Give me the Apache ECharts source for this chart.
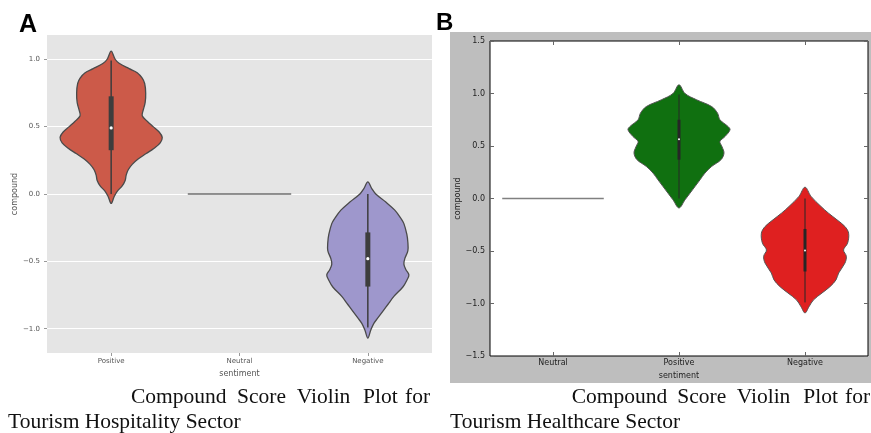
<!DOCTYPE html>
<html><head><meta charset="utf-8">
<script src="https://cdn.jsdelivr.net/npm/echarts@6/dist/echarts.min.js"></script>
<style>html,body{margin:0;padding:0;background:#fff}#c{width:871px;height:433px}</style>
</head><body><div id="c"></div>
<script>
// ---------- data ----------
const categoriesA = ['Positive', 'Neutral', 'Negative'];
const categoriesB = ['Neutral', 'Positive', 'Negative'];
const yTicksA = [-1.0, -0.5, 0.0, 0.5, 1.0];
const yTicksB = [-1.5, -1.0, -0.5, 0.0, 0.5, 1.0, 1.5];

// violin outlines: [compound value, half width as a fraction of the category band]
const violinA_Positive = [[1.06,0],[1.00,0.031],[0.97,0.062],[0.93,0.140],[0.90,0.203],[0.86,0.242],[0.82,0.261],[0.75,0.269],[0.68,0.265],[0.62,0.249],[0.58,0.242],[0.54,0.281],[0.50,0.327],[0.46,0.374],[0.42,0.398],[0.38,0.382],[0.34,0.335],[0.30,0.273],[0.26,0.210],[0.22,0.164],[0.18,0.133],[0.14,0.117],[0.10,0.109],[0.06,0.086],[0.02,0.047],[-0.02,0.023],[-0.07,0]];
const violinA_Negative = [[0.09,0],[0.04,0.031],[0.00,0.062],[-0.06,0.140],[-0.12,0.210],[-0.18,0.257],[-0.22,0.281],[-0.30,0.304],[-0.36,0.312],[-0.42,0.312],[-0.48,0.288],[-0.52,0.281],[-0.56,0.296],[-0.60,0.320],[-0.64,0.304],[-0.69,0.273],[-0.76,0.203],[-0.82,0.156],[-0.86,0.125],[-0.92,0.078],[-0.96,0.047],[-1.01,0.023],[-1.07,0]];
const violinB_Positive = [[1.083,0],[1.00,0.048],[0.94,0.140],[0.876,0.259],[0.813,0.306],[0.75,0.325],[0.686,0.389],[0.654,0.405],[0.59,0.365],[0.543,0.325],[0.495,0.341],[0.432,0.357],[0.369,0.333],[0.305,0.259],[0.242,0.206],[0.178,0.167],[0.114,0.127],[0.05,0.087],[-0.012,0.048],[-0.09,0]];
const violinB_Negative = [[0.108,0],[0.02,0.048],[-0.076,0.127],[-0.14,0.187],[-0.203,0.254],[-0.267,0.317],[-0.33,0.346],[-0.425,0.338],[-0.49,0.306],[-0.55,0.328],[-0.615,0.317],[-0.71,0.267],[-0.775,0.246],[-0.84,0.198],[-0.90,0.135],[-0.965,0.068],[-1.03,0.032],[-1.09,0]];
// neutral sentiment: all scores 0 -> drawn as a flat line [value, half width]
const neutralLine = [0.0, 0.403];
// box statistics: [whisker low, q1, median, q3, whisker high]
const boxA_Positive = [0.0, 0.325, 0.49, 0.725, 0.99];
const boxA_Negative = [-0.99, -0.687, -0.48, -0.285, 0.0];
const boxB_Positive = [0.0, 0.37, 0.565, 0.75, 0.99];
const boxB_Negative = [-0.99, -0.695, -0.495, -0.29, 0.0];

const minus = v => v.toFixed(1).replace('-', '\u2212');

function makeRender(cats, profiles, boxes, colors, st) {
  return function (params, api) {
    const idx = api.value(0);
    const name = cats[idx];
    const band = api.size([1, 0])[0];
    const cx = api.coord([idx, 0])[0];
    const children = [];
    if (name === 'Neutral') {
      const y = api.coord([idx, neutralLine[0]])[1];
      const hw = neutralLine[1] * band;
      children.push({ type: 'polyline', shape: { points: [[cx - hw, y], [cx + hw, y]] },
        style: { stroke: st.neutral, lineWidth: st.neutralW, fill: null } });
      return { type: 'group', children };
    }
    const prof = profiles[name];
    const right = prof.map(p => [cx + p[1] * band, api.coord([idx, p[0]])[1]]);
    const left = prof.slice(1, -1).reverse().map(p => [cx - p[1] * band, api.coord([idx, p[0]])[1]]);
    children.push({ type: 'polygon', shape: { points: right.concat(left), smooth: 0.35 },
      style: { fill: colors[name], stroke: st.outline, lineWidth: st.outlineW } });
    const b = boxes[name];
    const yy = b.map(v => api.coord([idx, v])[1]);
    children.push({ type: 'polyline', shape: { points: [[cx, yy[0]], [cx, yy[4]]] },
      style: { stroke: st.box, lineWidth: st.whiskerW, fill: null } });
    children.push({ type: 'rect', shape: { x: cx - st.boxW / 2, y: yy[3], width: st.boxW, height: yy[1] - yy[3] },
      style: { fill: st.box } });
    children.push({ type: 'circle', shape: { cx: cx, cy: yy[2], r: st.dotR }, style: { fill: '#ffffff' } });
    return { type: 'group', children };
  };
}

const chart = echarts.init(document.getElementById('c'), null, { renderer: 'canvas' });
const serif = '"Liberation Serif", "Times New Roman", serif';
const sans = '"DejaVu Sans", sans-serif';

const captionWordsA = [['Compound', 131], ['Score', 237], ['Violin', 296.7], ['Plot', 363], ['for', 405]];
const captionWordsB = [['Compound', 571.7], ['Score', 677.3], ['Violin', 736.7], ['Plot', 803.3], ['for', 845]];
const captionText = (t, x, y) => ({ type: 'text', left: x, top: y - 11, style: { text: t, font: '21.5px ' + serif, fill: '#111' } });

const graphic = [
  { type: 'rect', shape: { x: 450, y: 32, width: 421, height: 351 }, style: { fill: '#bebebe' }, z: -10 },
  { type: 'text', left: 19, top: 13, style: { text: 'A', font: 'bold 25px "Liberation Sans", Arial, sans-serif', fill: '#000' } },
  { type: 'text', left: 436, top: 11, style: { text: 'B', font: 'bold 24px "Liberation Sans", Arial, sans-serif', fill: '#000' } }
];
captionWordsA.forEach(w => graphic.push(captionText(w[0], w[1], 397.5)));
graphic.push(captionText('Tourism Hospitality Sector', 8, 422));
captionWordsB.forEach(w => graphic.push(captionText(w[0], w[1], 397.5)));
graphic.push(captionText('Tourism Healthcare Sector', 450, 422));

const noLine = { show: false, onZero: false };
const option = {
  animation: false,
  textStyle: { fontFamily: sans },
  graphic: { elements: graphic },
  grid: [
    { left: 47, top: 35, width: 385, height: 318, show: true, backgroundColor: '#e5e5e5', borderWidth: 0 },
    { left: 490, top: 41, width: 378, height: 315, show: true, backgroundColor: '#ffffff', borderColor: '#000', borderWidth: 1 }
  ],
  xAxis: [
    { type: 'category', gridIndex: 0, position: 'bottom', data: categoriesA, name: 'sentiment', nameLocation: 'middle', nameGap: 15,
      nameTextStyle: { fontSize: 8, color: '#555', fontFamily: sans },
      axisLine: noLine, axisTick: { show: true, alignWithLabel: true, length: 3, lineStyle: { color: '#999' } },
      axisLabel: { fontSize: 7, color: '#555', margin: 5 }, splitLine: { show: false } },
    { type: 'category', gridIndex: 1, position: 'bottom', data: categoriesB, name: 'sentiment', nameLocation: 'middle', nameGap: 13,
      nameTextStyle: { fontSize: 8, color: '#222', fontFamily: sans },
      axisLine: noLine, axisTick: { show: true, inside: true, alignWithLabel: true, length: 4, lineStyle: { color: '#666' } },
      axisLabel: { fontSize: 8, color: '#222', margin: 3 }, splitLine: { show: false } },
    { type: 'category', gridIndex: 1, position: 'top', data: categoriesB,
      axisLine: noLine, axisTick: { show: true, inside: true, alignWithLabel: true, length: 4, lineStyle: { color: '#666' } },
      axisLabel: { show: false }, splitLine: { show: false } }
  ],
  yAxis: [
    { type: 'value', gridIndex: 0, position: 'left', min: -1.18, max: 1.18, name: 'compound', nameLocation: 'middle', nameGap: 24,
      nameTextStyle: { fontSize: 8, color: '#555', fontFamily: sans },
      axisLine: noLine,
      axisTick: { show: true, length: 3, customValues: yTicksA, lineStyle: { color: '#999' } },
      axisLabel: { fontSize: 7, color: '#555', margin: 7, customValues: yTicksA, formatter: minus },
      splitLine: { show: true, lineStyle: { color: '#ffffff', width: 1 } } },
    { type: 'value', gridIndex: 1, position: 'left', min: -1.5, max: 1.5, interval: 0.5, name: 'compound', nameLocation: 'middle', nameGap: 27,
      nameTextStyle: { fontSize: 8, color: '#222', fontFamily: sans },
      axisLine: noLine,
      axisTick: { show: true, inside: true, length: 4, lineStyle: { color: '#666' } },
      axisLabel: { fontSize: 8, color: '#222', margin: 5, formatter: minus },
      splitLine: { show: false } },
    { type: 'value', gridIndex: 1, position: 'right', min: -1.5, max: 1.5, interval: 0.5,
      axisLine: noLine,
      axisTick: { show: true, inside: true, length: 4, lineStyle: { color: '#666' } },
      axisLabel: { show: false }, splitLine: { show: false } }
  ],
  series: [
    { type: 'custom', xAxisIndex: 0, yAxisIndex: 0, data: categoriesA.map((c, i) => [i, 0]), encode: { x: 0, y: 1 },
      renderItem: makeRender(categoriesA,
        { Positive: violinA_Positive, Negative: violinA_Negative },
        { Positive: boxA_Positive, Negative: boxA_Negative },
        { Positive: '#cc5a49', Negative: '#9e97cc' },
        { outline: '#4a4a4a', outlineW: 1.3, box: '#3d3d3d', boxW: 5, whiskerW: 1.5, dotR: 1.6, neutral: '#6e6e6e', neutralW: 1.6 }) },
    { type: 'custom', xAxisIndex: 1, yAxisIndex: 1, data: categoriesB.map((c, i) => [i, 0]), encode: { x: 0, y: 1 },
      renderItem: makeRender(categoriesB,
        { Positive: violinB_Positive, Negative: violinB_Negative },
        { Positive: boxB_Positive, Negative: boxB_Negative },
        { Positive: '#107010', Negative: '#df2020' },
        { outline: '#555555', outlineW: 1, box: '#262626', boxW: 3, whiskerW: 1, dotR: 1, neutral: '#808080', neutralW: 1.3 }) }
  ]
};
chart.setOption(option);
</script>
</body></html>
